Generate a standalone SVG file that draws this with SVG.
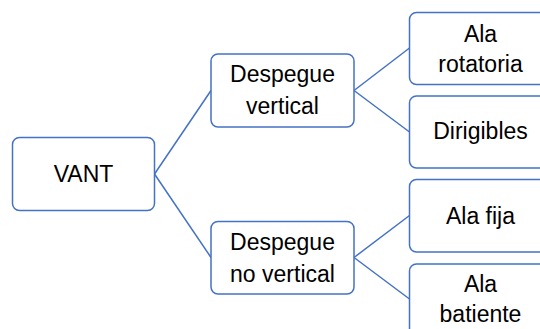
<svg xmlns="http://www.w3.org/2000/svg" width="540" height="329" viewBox="0 0 540 329">
<style>
.box{fill:#fff;stroke:#4472c4;stroke-width:1.5}
.t{font-family:"Liberation Sans",Arial,sans-serif;font-size:23px;fill:#000;text-anchor:middle}
.c{stroke:#4472c4;stroke-width:1.5;fill:none}
</style>
<rect width="540" height="329" fill="#fff"/>
<g id="connectors">
<line class="c" x1="154.5" y1="174" x2="211" y2="90.5"/>
<line class="c" x1="154.5" y1="174" x2="211" y2="257.5"/>
<line class="c" x1="354" y1="90.5" x2="409.5" y2="48"/>
<line class="c" x1="354" y1="90.5" x2="409.5" y2="132"/>
<line class="c" x1="354" y1="257.5" x2="409.5" y2="215.5"/>
<line class="c" x1="354" y1="257.5" x2="409.5" y2="299"/>
</g>
<g id="vant">
<rect class="box" x="12.5" y="137.5" width="142" height="73" rx="7"/>
<text class="t" x="83.5" y="182">VANT</text>
</g>
<g id="despegue-vertical">
<rect class="box" x="211" y="54" width="143" height="73" rx="7"/>
<text class="t" x="282.5" y="82">Despegue</text>
<text class="t" x="282.5" y="114">vertical</text>
</g>
<g id="despegue-no-vertical">
<rect class="box" x="211" y="221.5" width="143" height="72.5" rx="7"/>
<text class="t" x="282.5" y="249.5">Despegue</text>
<text class="t" x="282.5" y="281.5">no vertical</text>
</g>
<g id="ala-rotatoria">
<rect class="box" x="409.5" y="12.5" width="142" height="72" rx="7"/>
<text class="t" x="480.5" y="42">Ala</text>
<text class="t" x="480.5" y="72">rotatoria</text>
</g>
<g id="dirigibles">
<rect class="box" x="409.5" y="96" width="142" height="72" rx="7"/>
<text class="t" x="480.5" y="138.5">Dirigibles</text>
</g>
<g id="ala-fija">
<rect class="box" x="409.5" y="179.5" width="142" height="72.5" rx="7"/>
<text class="t" x="480.5" y="223.5">Ala fija</text>
</g>
<g id="ala-batiente">
<rect class="box" x="409.5" y="264" width="142" height="72" rx="7"/>
<text class="t" x="480.5" y="292">Ala</text>
<text class="t" x="480.5" y="322">batiente</text>
</g>
</svg>
